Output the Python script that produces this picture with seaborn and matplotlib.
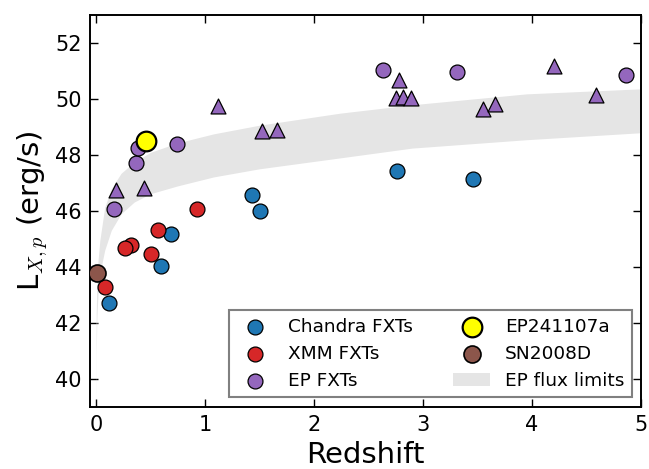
import matplotlib
matplotlib.use("Agg")
import matplotlib.pyplot as plt
import seaborn as sns

# Chandra fast X-ray transients
chandra_z = [0.12, 0.60, 0.69, 1.43, 1.50, 2.76, 3.46]
chandra_L = [42.70, 44.04, 45.18, 46.56, 46.00, 47.43, 47.14]

# XMM-Newton fast X-ray transients
xmm_z = [0.08, 0.32, 0.27, 0.50, 0.57, 0.93]
xmm_L = [43.29, 44.78, 44.68, 44.48, 45.31, 46.06]

# Einstein Probe FXTs with spectroscopic redshift (circles)
ep_z = [0.166, 0.364, 0.388, 0.74, 2.63, 3.31, 4.86]
ep_L = [46.08, 47.71, 48.25, 48.41, 51.05, 50.96, 50.85]

# Einstein Probe FXTs with photometric / other redshift (triangles)
ep_tri_z = [0.186, 0.443, 1.123, 1.52, 1.665, 2.78, 2.75, 2.82, 2.89,
            3.55, 3.66, 4.20, 4.59]
ep_tri_L = [46.76, 46.82, 49.74, 48.86, 48.88, 50.67, 50.04, 50.07, 50.05,
            49.66, 49.84, 51.20, 50.16]

# Highlighted events
ep241107a_z = [0.457]
ep241107a_L = [48.52]
sn2008d_z = [0.007]
sn2008d_L = [43.78]

# EP flux-limit band (lower / upper luminosity vs redshift)
band_z = [0.0003, 0.002, 0.008, 0.018, 0.035, 0.08, 0.14, 0.23, 0.35, 0.5,
          0.75, 1.08, 1.5, 2.24, 2.9, 3.95, 5.0]
band_lo = [38.5, 40.9, 42.2, 43.0, 43.76, 44.6, 45.31, 45.9, 46.32, 46.62,
           46.9, 47.22, 47.51, 47.9, 48.25, 48.55, 48.8]
band_hi = [39.9, 42.4, 43.5, 44.2, 44.95, 46.14, 46.8, 47.35, 47.75, 48.1,
           48.44, 48.76, 49.07, 49.5, 49.8, 50.19, 50.37]

sns.set_style("ticks")
plt.rcParams.update({
    "font.family": ["DejaVu Sans"],
    "mathtext.fontset": "cm",
    "text.color": "black",
    "axes.labelcolor": "black",
    "xtick.direction": "in",
    "ytick.direction": "in",
    "xtick.top": True,
    "ytick.right": True,
    "xtick.major.size": 6,
    "ytick.major.size": 6,
    "xtick.major.width": 1.0,
    "ytick.major.width": 1.0,
    "xtick.major.pad": 6,
    "ytick.major.pad": 6,
    "xtick.labelsize": 15,
    "ytick.labelsize": 15,
    "axes.linewidth": 1.4,
    "axes.edgecolor": "black",
    "xtick.color": "black",
    "ytick.color": "black",
})

fig = plt.figure(figsize=(6.49, 4.69), dpi=100)
ax = fig.add_axes([0.1387, 0.1328, 0.8490, 0.8346])

ax.fill_between(band_z, band_lo, band_hi, color="#e5e5e5", lw=0,
                zorder=1, label="EP flux limits")

common = dict(edgecolor="black", linewidth=0.9, ax=ax, zorder=3)
sns.scatterplot(x=chandra_z, y=chandra_L, color="#1f77b4", s=115,
                label="Chandra FXTs", **common)
sns.scatterplot(x=xmm_z, y=xmm_L, color="#d62728", s=115,
                label="XMM FXTs", **common)
sns.scatterplot(x=ep_z, y=ep_L, color="#9467bd", s=115,
                label="EP FXTs", **common)
sns.scatterplot(x=ep_tri_z, y=ep_tri_L, color="#9467bd", s=115, marker="^",
                **common)
sns.scatterplot(x=ep241107a_z, y=ep241107a_L, color="#ffff00", s=200,
                edgecolor="black", linewidth=1.6, ax=ax, zorder=4,
                label="EP241107a")
sns.scatterplot(x=sn2008d_z, y=sn2008d_L, color="#8c564b", s=150,
                edgecolor="black", linewidth=1.2, ax=ax, zorder=4,
                label="SN2008D")

ax.set_xlim(-0.055, 5.0)
ax.set_ylim(39, 53)
ax.set_xticks([0, 1, 2, 3, 4, 5])
ax.set_yticks([40, 42, 44, 46, 48, 50, 52])
ax.set_xlabel("Redshift", fontsize=21)
ax.set_ylabel(r"L$_{X,p}$ (erg/s)", fontsize=21)

order = ["Chandra FXTs", "XMM FXTs", "EP FXTs", "EP241107a", "SN2008D",
         "EP flux limits"]
handles, labels = ax.get_legend_handles_labels()
lookup = dict(zip(labels, handles))
leg = ax.legend([lookup[k] for k in order], order, loc="lower right",
                ncol=2, fontsize=13.3, scatterpoints=1, fancybox=False,
                edgecolor="0.5", framealpha=1, columnspacing=2.2)
leg.get_frame().set_linewidth(1.5)
for txt in leg.get_texts():
    txt.set_color("black")

fig.savefig("out.png", dpi=100)
